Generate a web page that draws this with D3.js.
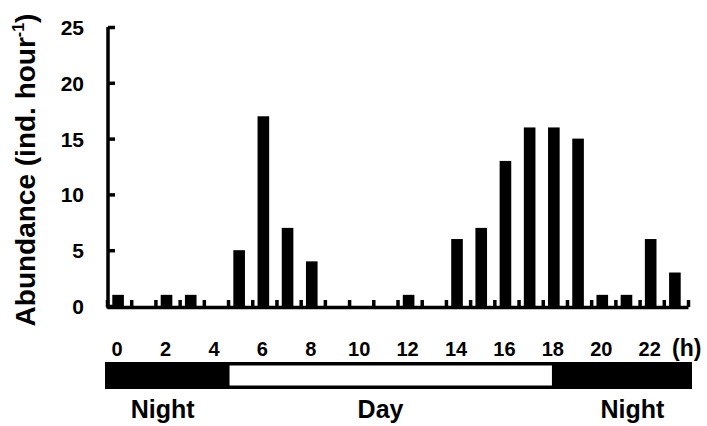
<!DOCTYPE html>
<html>
<head>
<meta charset="utf-8">
<script src="https://cdn.jsdelivr.net/npm/d3@7"></script>
<style>
  html, body { margin: 0; padding: 0; background: #fff; }
  svg { display: block; }
  text { font-family: "Liberation Sans", Arial, sans-serif; font-weight: bold; fill: #000; }
</style>
</head>
<body>
<svg id="chart" width="707" height="426"></svg>
<script>
// ---- data ----
const hours = d3.range(0, 24);
const abundance = [1, 0, 1, 1, 0, 5, 17, 7, 4, 0, 0, 0, 1, 0, 6, 7, 13, 16, 16, 15, 1, 1, 6, 3];
const xTickLabels = [0, 2, 4, 6, 8, 10, 12, 14, 16, 18, 20, 22];
const yTicks = [0, 5, 10, 15, 20, 25];
const dayStart = 5;
const dayEnd = 18.4;
const periodLabels = [
  { label: "Night", center: 2.3 },
  { label: "Day", center: 11.3 },
  { label: "Night", center: 21.7 }
];
const yTitle = "Abundance (ind. hour";
const yTitleSup = "-1";
const xUnit = "(h)";

// ---- layout ----
const svg = d3.select("#chart");
const plotLeft = 107, plotRight = 688, plotTop = 27, plotBase = 306;

const xb = d3.scaleLinear().domain([0, 24]).range([plotLeft, plotRight]);
const x = d3.scaleBand().domain(hours).range([plotLeft, plotRight]).paddingInner(0.52).paddingOuter(0.26);
const y = d3.scaleLinear().domain([0, 25]).range([plotBase, plotTop]);

// bars
svg.append("g").selectAll("rect").data(hours).join("rect")
  .attr("x", d => x(d) - 1)
  .attr("width", x.bandwidth())
  .attr("y", d => y(abundance[d]))
  .attr("height", d => y(0) - y(abundance[d]))
  .attr("fill", "#000");

// x axis (ticks at hour boundaries pointing up)
const gx = svg.append("g").attr("transform", `translate(0,${plotBase + 1})`)
  .call(d3.axisBottom(xb).tickValues(d3.range(0, 25)).tickSizeInner(-7).tickSizeOuter(0).tickFormat(""));
gx.select(".domain").attr("stroke", "#000").attr("stroke-width", 3.5);
gx.selectAll(".tick line").attr("stroke", "#000").attr("stroke-width", 3.5);

// y axis
const gy = svg.append("g").attr("transform", `translate(${plotLeft + 1},0)`)
  .call(d3.axisLeft(y).tickValues(yTicks).tickSizeInner(-7).tickSizeOuter(0).tickPadding(24));
gy.select(".domain").attr("stroke", "#000").attr("stroke-width", 3.5)
  .attr("d", `M0,${plotTop}V${plotBase + 2.5}`);
gy.selectAll(".tick line").attr("stroke", "#000").attr("stroke-width", 3.5);
gy.selectAll(".tick text")
  .style("font-size", "21px").style("font-family", "'Liberation Sans', Arial, sans-serif")
  .style("font-weight", "bold").attr("fill", "#000").attr("dy", "0.36em");

// x tick labels
svg.append("g").selectAll("text").data(xTickLabels).join("text")
  .attr("x", d => x(d) + x.bandwidth() / 2 - 2)
  .attr("y", 356)
  .attr("text-anchor", "middle")
  .style("font-size", "20px")
  .text(d => d);

svg.append("text")
  .attr("x", xb(24) - 16)
  .attr("y", 356)
  .style("font-size", "23px")
  .text(xUnit);

// day / night bar
svg.append("rect")
  .attr("x", xb(0) - 2).attr("width", xb(24) - xb(0) + 6)
  .attr("y", 362).attr("height", 27)
  .attr("fill", "#000");
svg.append("rect")
  .attr("x", xb(dayStart) + 1.5).attr("width", xb(dayEnd) - xb(dayStart) - 2)
  .attr("y", 365.5).attr("height", 20)
  .attr("fill", "#fff");

svg.append("g").selectAll("text").data(periodLabels).join("text")
  .attr("x", d => xb(d.center))
  .attr("y", 418)
  .attr("text-anchor", "middle")
  .style("font-size", "25px")
  .text(d => d.label);

// y title
const t = svg.append("text")
  .attr("transform", "translate(35,170) rotate(-90)")
  .attr("text-anchor", "middle")
  .style("font-size", "28px");
t.append("tspan").text(yTitle);
t.append("tspan").attr("dy", -11).style("font-size", "16px").text(yTitleSup);
t.append("tspan").attr("dy", 11).text(")");
</script>
</body>
</html>
